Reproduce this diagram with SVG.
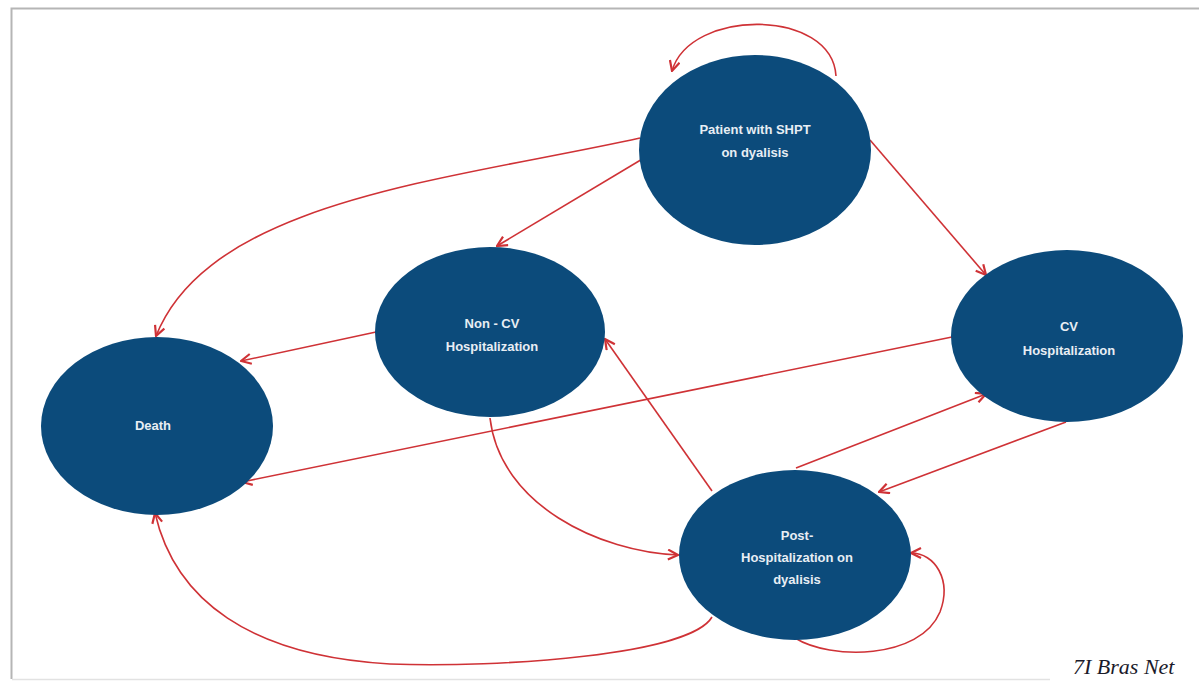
<svg xmlns="http://www.w3.org/2000/svg" width="1199" height="681" viewBox="0 0 1199 681">
<style>
.node{fill:#0c4b7b;}
.lbl{fill:#e8eef4;font-family:"Liberation Sans",Arial,sans-serif;font-size:13px;font-weight:bold;text-anchor:middle;}
.edge{fill:none;stroke:#cf3236;stroke-width:1.6;}
.frame{stroke:#b5b5b5;stroke-width:2;fill:none;}
</style>
<defs>
<marker id="ah" viewBox="0 0 12 12" refX="11" refY="6" markerWidth="12" markerHeight="12" markerUnits="userSpaceOnUse" orient="auto">
<path d="M1,1 L11,6 L1,11" fill="none" stroke="#cf3236" stroke-width="2.2" stroke-linejoin="miter"/>
</marker>
</defs>
<rect width="1199" height="681" fill="#ffffff"/>
<g id="frame">
<path class="frame" d="M1199,8.5 H11.5 V679"/>
<path d="M12,679.5 H1050" stroke="#e2e2e2" stroke-width="1.5" fill="none"/>
</g>
<g id="connectors">
<path class="edge" marker-end="url(#ah)" d="M836,76 C832,8 690,8 672,71"/>
<path class="edge" marker-end="url(#ah)" d="M640,138 C450,180 210,200 156,336"/>
<path class="edge" marker-end="url(#ah)" d="M644,158 L497,246"/>
<path class="edge" marker-end="url(#ah)" d="M870,140 L986,275"/>
<path class="edge" marker-end="url(#ah)" d="M376,332 L241,361"/>
<path class="edge" marker-end="url(#ah)" d="M952,337 L242,482"/>
<path class="edge" marker-end="url(#ah)" d="M490,418 C500,505 600,552 678,555"/>
<path class="edge" marker-end="url(#ah)" d="M712,491 L605,339"/>
<path class="edge" marker-end="url(#ah)" d="M796,468 L986,394"/>
<path class="edge" marker-end="url(#ah)" d="M1066,422 L879,492"/>
<path class="edge" marker-end="url(#ah)" d="M795,638 C830,660 920,660 940,612 C952,580 935,553 911,553"/>
<path class="edge" marker-end="url(#ah)" d="M712,617 C690,655 500,668 390,664 C250,656 175,600 155,513"/>
</g>
<g id="patient">
<ellipse class="node" cx="755" cy="150" rx="116" ry="95"/>
<text class="lbl" x="755" y="134">Patient with SHPT</text>
<text class="lbl" x="755" y="157">on dyalisis</text>
</g>
<g id="noncv">
<ellipse class="node" cx="490" cy="332" rx="115" ry="85"/>
<text class="lbl" x="492" y="328">Non - CV</text>
<text class="lbl" x="492" y="351">Hospitalization</text>
</g>
<g id="cv">
<ellipse class="node" cx="1067" cy="336" rx="116" ry="86"/>
<text class="lbl" x="1069" y="331">CV</text>
<text class="lbl" x="1069" y="355">Hospitalization</text>
</g>
<g id="death">
<ellipse class="node" cx="157" cy="426" rx="116" ry="89"/>
<text class="lbl" x="153" y="430">Death</text>
</g>
<g id="post">
<ellipse class="node" cx="795" cy="555" rx="116" ry="85"/>
<text class="lbl" x="797" y="540">Post-</text>
<text class="lbl" x="797" y="562">Hospitalization on</text>
<text class="lbl" x="797" y="584">dyalisis</text>
</g>
<text x="1073" y="674" font-family="'Liberation Serif','Times New Roman',serif" font-style="italic" font-size="22" fill="#1a1a2a">7I Bras Net</text>
</svg>
